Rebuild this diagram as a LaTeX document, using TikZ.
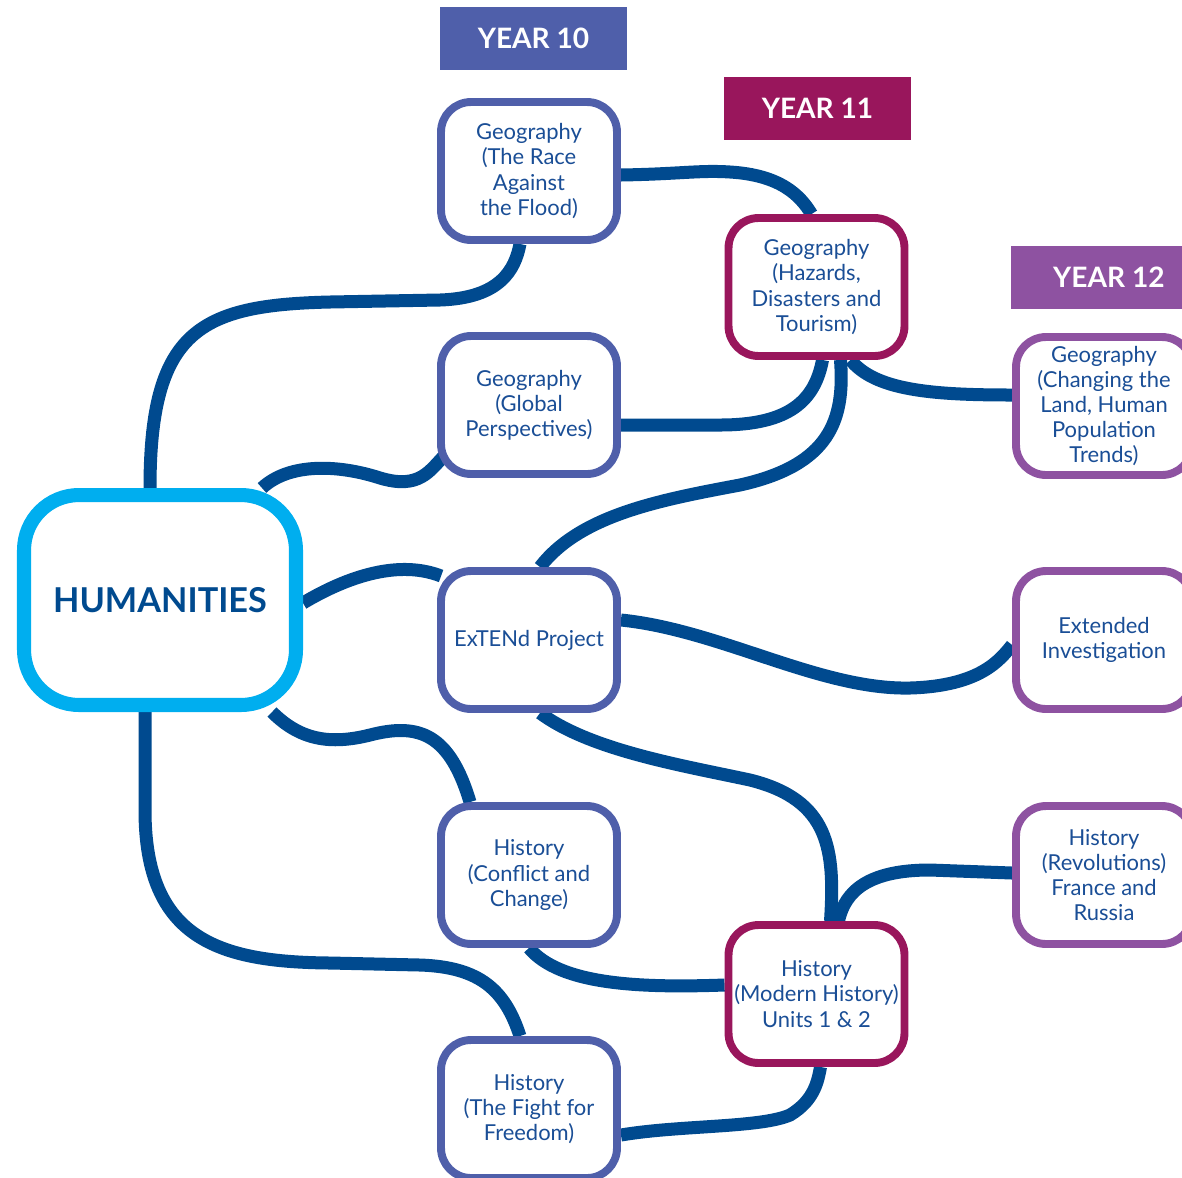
\documentclass[tikz,border=0pt]{standalone}
\usepackage{fontspec}
\setmainfont{Lato}
\usepackage{xcolor}
\usetikzlibrary{calc,backgrounds}

\definecolor{linkblue}{HTML}{004A8F}
\definecolor{humcyan}{HTML}{00AEEF}
\definecolor{yearten}{HTML}{4F5FAA}
\definecolor{yeareleven}{HTML}{99165C}
\definecolor{yeartwelve}{HTML}{8E52A1}
\definecolor{txtblue}{HTML}{1A4E96}

\begin{document}
\begin{tikzpicture}[x=0.02cm, y=-0.02cm,
    topic/.style={draw, fill=white, rounded corners=0.6cm, line width=4.5pt,
      minimum width=3.52cm, minimum height=2.76cm, inner sep=0pt,
      align=center, text=txtblue, font=\fontsize{12.5}{14.3}\selectfont},
    yten/.style={topic, draw=yearten},
    yeleven/.style={topic, draw=yeareleven},
    ytwelve/.style={topic, draw=yeartwelve},
    yearhead/.style={minimum width=3.74cm, minimum height=1.26cm, inner sep=0pt,
      text=white, font=\fontsize{16}{19}\selectfont\bfseries},
    link/.style={draw=linkblue, line width=7.4pt}
  ]
  \useasboundingbox (0,0) rectangle (1182,1177);
  \clip (0,0) rectangle (1182,1177);

  % year headings
  \node[yearhead, fill=yearten]     (head10) at (533.5,38.5)  {YEAR 10};
  \node[yearhead, fill=yeareleven]  (head11) at (817.5,108.5) {YEAR 11};
  \node[yearhead, fill=yeartwelve]  (head12) at (1104.5,277.5) {\hspace*{5pt}YEAR 12};

  % centre
  \node[draw=humcyan, fill=white, line width=8pt, rounded corners=1.1cm,
        minimum width=5.44cm, minimum height=4.2cm, text=linkblue,
        font=\fontsize{19.5}{22}\selectfont\bfseries] (hum) at (160,600) {HUMANITIES};

  % year 10
  \node[yten] (race)     at (529,171) {Geography\\(The Race\\Against\\the Flood)};
  \node[yten] (global)   at (529,405)   {Geography\\(Global\\Perspectives)};
  \node[yten] (extend)   at (529,640)   {ExTENd Project};
  \node[yten] (conflict) at (529,875)   {History\\(Conflict and\\Change)};
  \node[yten] (fight)    at (529,1109) {History\\(The Fight for\\Freedom)};

  % year 11
  \node[yeleven] (hazards) at (816.5,287) {Geography\\(Hazards,\\Disasters and\\Tourism)};
  \node[yeleven] (modern)  at (816.5,994) {History\\(Modern History)\\Units 1 \& 2};

  % year 12
  \node[ytwelve] (changing)    at (1104,406) {Geography\\(Changing the\\Land, Human\\Population\\Trends)};
  \node[ytwelve] (extended)    at (1104,640) {Extended\\Investigation};
  \node[ytwelve] (revolutions) at (1104,875) {History\\(Revolutions)\\France and\\Russia};

  \begin{scope}[on background layer]
    \draw[link] ($(hum.north)+(-10,0)$) .. controls (150,330) and (200,305) .. (330,302)
      -- (440,300) .. controls (500,298) and (515,270) .. ($(race.south)+(-9,0)$);
    \draw[link] ($(hum.north)+(102,0)$) .. controls (290,462) and (340,465) .. (380,478)
      .. controls (420,490) and (430,470) .. ($(global.center)+(-84,50)$);
    \draw[link] ($(hum.east)+(0,3)$) .. controls (350,575) and (400,560) .. ($(extend.west)+(4,-64)$);
    \draw[link] ($(hum.south)+(112,0)$) .. controls (300,740) and (330,745) .. (370,735)
      .. controls (420,722) and (450,735) .. ($(conflict.north)+(-59,0)$);
    \draw[link] ($(hum.south)+(-15,0)$) -- (145,810) .. controls (145,940) and (220,962) .. (330,963)
      -- (420,965) .. controls (480,967) and (505,990) .. ($(fight.north)+(-9,0)$);
    \draw[link] ($(race.east)+(0,4)$) .. controls (680,174) and (700,170) .. (730,172)
      .. controls (780,175) and (800,195) .. ($(hazards.north)+(-5,0)$);
    \draw[link] ($(global.east)+(0,20)$) -- (720,425) .. controls (790,425) and (815,400) .. ($(hazards.south)+(6,0)$);
    \draw[link] ($(extend.north)+(11,0)$) .. controls (580,515) and (660,500) .. (740,485)
      .. controls (830,465) and (845,420) .. ($(hazards.south)+(24,0)$);
    \draw[link] ($(hazards.south)+(34,0)$) .. controls (875,390) and (930,395) .. ($(changing.west)+(0,-11)$);
    \draw[link] ($(extend.east)+(0,-20)$) .. controls (720,630) and (820,690) .. (910,688)
      .. controls (980,686) and (1000,660) .. ($(extended.west)+(0,5)$);
    \draw[link] ($(extend.south)+(11,0)$) .. controls (590,750) and (680,765) .. (750,780)
      .. controls (830,800) and (835,850) .. ($(modern.north)+(14,0)$);
    \draw[link] (conflict.south) .. controls (560,985) and (640,988) .. ($(modern.west)+(0,-9)$);
    \draw[link] ($(revolutions.west)+(0,-2)$) -- (930,870) .. controls (870,870) and (845,890) .. ($(modern.north)+(22,0)$);
    \draw[link] ($(fight.east)+(0,26)$) .. controls (680,1125) and (760,1128) .. (790,1115)
      .. controls (815,1100) and (818,1080) .. ($(modern.south)+(4,0)$);
  \end{scope}
\end{tikzpicture}
\end{document}
